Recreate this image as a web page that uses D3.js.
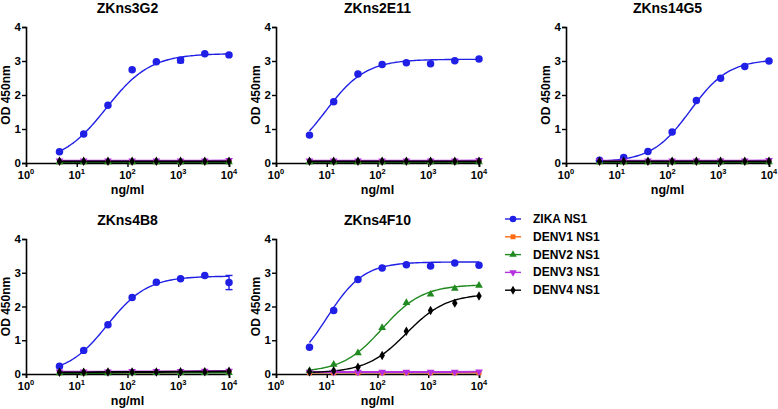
<html>
<head>
<meta charset="utf-8">
<script src="https://cdn.jsdelivr.net/npm/d3@7"></script>
<style>
  body { margin: 0; background: #fff; }
  text { font-family: "Liberation Sans", Arial, sans-serif; font-weight: bold; fill: #000; }
</style>
</head>
<body>
<div id="chart"></div>
<script>
// antigen concentrations (3-fold dilutions, ng/ml)
var conc = [4.57, 13.7, 41.2, 123.5, 370.4, 1111, 3333, 10000];
var seriesNames = ["ZIKA NS1", "DENV1 NS1", "DENV2 NS1", "DENV3 NS1", "DENV4 NS1"];
var seriesColors = ["#1f1fe6", "#ff6a13", "#1f8a1f", "#b531e0", "#000000"];
var seriesSymbols = [d3.symbolCircle, d3.symbolSquare, d3.symbolTriangle, d3.symbolTriangle, d3.symbolDiamond];
var panelTitles = ["ZKns3G2", "ZKns2E11", "ZKns14G5", "ZKns4B8", "ZKns4F10"];
var xTicks = [1, 10, 100, 1000, 10000];
var yTicks = [0, 1, 2, 3, 4];

// OD 450nm, one row per antigen (ZIKA, DENV1..4)
var od3G2 = [
  [0.33, 0.85, 1.70, 2.74, 2.98, 3.02, 3.21, 3.18],
  [0.04, 0.04, 0.04, 0.04, 0.04, 0.04, 0.04, 0.05],
  [0.03, 0.03, 0.03, 0.03, 0.03, 0.03, 0.03, 0.03],
  [0.07, 0.07, 0.07, 0.07, 0.07, 0.07, 0.07, 0.08],
  [0.05, 0.05, 0.05, 0.05, 0.05, 0.05, 0.05, 0.05]
];
var od2E11 = [
  [0.82, 1.80, 2.62, 2.90, 2.95, 2.92, 3.01, 3.06],
  [0.04, 0.04, 0.04, 0.04, 0.04, 0.04, 0.04, 0.05],
  [0.03, 0.03, 0.03, 0.03, 0.03, 0.03, 0.03, 0.03],
  [0.07, 0.07, 0.07, 0.07, 0.07, 0.07, 0.07, 0.08],
  [0.05, 0.05, 0.05, 0.05, 0.05, 0.05, 0.05, 0.05]
];
var od14G5 = [
  [0.08, 0.16, 0.34, 0.91, 1.84, 2.49, 2.84, 3.00],
  [0.04, 0.04, 0.04, 0.04, 0.04, 0.04, 0.04, 0.05],
  [0.03, 0.03, 0.03, 0.03, 0.03, 0.03, 0.03, 0.03],
  [0.07, 0.07, 0.07, 0.07, 0.07, 0.07, 0.07, 0.08],
  [0.05, 0.05, 0.05, 0.05, 0.05, 0.05, 0.05, 0.05]
];
var od4B8 = [
  [0.23, 0.70, 1.46, 2.27, 2.72, 2.82, 2.92, 2.71],
  [0.04, 0.04, 0.05, 0.05, 0.05, 0.05, 0.06, 0.06],
  [0.03, 0.03, 0.03, 0.04, 0.04, 0.04, 0.04, 0.04],
  [0.07, 0.07, 0.07, 0.08, 0.08, 0.08, 0.09, 0.09],
  [0.05, 0.05, 0.06, 0.06, 0.06, 0.07, 0.07, 0.08]
];
var od4F10 = [
  [0.79, 1.88, 2.80, 3.14, 3.24, 3.20, 3.29, 3.22],
  [0.04, 0.04, 0.04, 0.04, 0.04, 0.04, 0.04, 0.04],
  [0.10, 0.28, 0.62, 1.37, 2.11, 2.36, 2.53, 2.62],
  [0.06, 0.06, 0.06, 0.06, 0.06, 0.06, 0.06, 0.07],
  [0.07, 0.10, 0.20, 0.55, 1.27, 1.88, 2.10, 2.31]
];
// error bar half-widths for the ZIKA series (0 = hidden)
var err3G2 = [0, 0, 0, 0, 0, 0.07, 0, 0];
var err4B8 = [0, 0, 0, 0, 0, 0, 0, 0.21];

// fitted 4PL curves: [bottom, top, EC50, hill]; null = flat line
var fit3G2 = [[0, 3.22, 38, 1.0], null, null, null, null];
var fit2E11 = [[0, 3.05, 9.5, 1.1], null, null, null, null];
var fit14G5 = [[0.03, 3.05, 280, 1.15], null, null, null, null];
var fit4B8 = [[0, 2.9, 40, 1.1], null, null, null, null];
var fit4F10 = [[0, 3.32, 10, 1.2], null, [0.05, 2.65, 125, 1.1], null, [0.03, 2.38, 370, 1.1]];

var panels = [
  { title: panelTitles[0], od: od3G2, err: err3G2, fit: fit3G2, x0: 26, x1: 229, y0: 27, y1: 163 },
  { title: panelTitles[1], od: od2E11, err: null, fit: fit2E11, x0: 276, x1: 479, y0: 27, y1: 163 },
  { title: panelTitles[2], od: od14G5, err: null, fit: fit14G5, x0: 566, x1: 769, y0: 27, y1: 163 },
  { title: panelTitles[3], od: od4B8, err: err4B8, fit: fit4B8, x0: 26, x1: 229, y0: 239, y1: 374 },
  { title: panelTitles[4], od: od4F10, err: null, fit: fit4F10, x0: 276, x1: 479, y0: 239, y1: 374 }
];

var svg = d3.select("#chart").append("svg").attr("width", 778).attr("height", 409);

function fourPL(p, c) {
  return p[0] + (p[1] - p[0]) / (1 + Math.pow(p[2] / c, p[3]));
}

panels.forEach(function (p) {
  var x = d3.scaleLog().domain([1, 10000]).range([p.x0, p.x1]);
  var y = d3.scaleLinear().domain([0, 4]).range([p.y1, p.y0]);
  var g = svg.append("g");

  // curves
  p.od.forEach(function (vals, si) {
    var pts;
    if (p.fit[si]) {
      var lx = d3.range(0, 101).map(function (i) {
        return Math.pow(10, Math.log10(conc[0]) + i / 100 * (4 - Math.log10(conc[0])));
      });
      pts = lx.map(function (c) { return [c, fourPL(p.fit[si], c)]; });
    } else {
      pts = conc.map(function (c, i) { return [c, vals[i]]; });
    }
    g.append("path")
      .attr("d", d3.line().x(function (d) { return x(d[0]); }).y(function (d) { return y(d[1]); })(pts))
      .attr("fill", "none")
      .attr("stroke", seriesColors[si])
      .attr("stroke-width", si === 0 || p.fit[si] ? 1.4 : 1.8);
  });

  // axes
  var xAxis = g.append("g").attr("transform", "translate(0," + p.y1 + ")")
    .call(d3.axisBottom(x).tickValues(xTicks).tickSize(4).tickFormat(""));
  xAxis.select(".domain").attr("stroke-width", 1.6);
  xAxis.selectAll(".tick line").attr("stroke-width", 1.4);
  xTicks.forEach(function (t) {
    var tx = g.append("text").attr("x", x(t)).attr("y", p.y1 + 16)
      .attr("text-anchor", "middle").style("font-size", "11px");
    tx.append("tspan").text("10");
    tx.append("tspan").attr("dy", -5).style("font-size", "7.5px").text(String(Math.round(Math.log10(t))));
  });

  var yAxis = g.append("g").attr("transform", "translate(" + p.x0 + ",0)")
    .call(d3.axisLeft(y).tickValues(yTicks).tickSize(4).tickFormat(d3.format("d")));
  yAxis.select(".domain").attr("stroke-width", 1.6);
  yAxis.selectAll(".tick line").attr("stroke-width", 1.4);
  yAxis.selectAll(".tick text").attr("x", -5).style("font-size", "11.5px")
    .style("font-family", "Liberation Sans, Arial, sans-serif").style("font-weight", "bold");

  // error bars
  if (p.err) {
    p.err.forEach(function (e, i) {
      if (!e) return;
      var v = p.od[0][i], cx = x(conc[i]);
      g.append("line").attr("x1", cx).attr("x2", cx).attr("y1", y(v - e)).attr("y2", y(v + e))
        .attr("stroke", seriesColors[0]).attr("stroke-width", 1.4);
      [v - e, v + e].forEach(function (ev) {
        g.append("line").attr("x1", cx - 3.5).attr("x2", cx + 3.5).attr("y1", y(ev)).attr("y2", y(ev))
          .attr("stroke", seriesColors[0]).attr("stroke-width", 1.4);
      });
    });
  }

  // markers
  p.od.forEach(function (vals, si) {
    g.selectAll(null).data(vals).enter().append("path")
      .attr("d", d3.symbol().type(seriesSymbols[si]).size(si === 0 ? 44 : 26))
      .attr("transform", function (d, i) {
        return "translate(" + x(conc[i]) + "," + y(d) + ")" + (si === 3 ? " rotate(180)" : "");
      })
      .attr("fill", seriesColors[si]);
  });

  // labels
  g.append("text").attr("x", (p.x0 + p.x1) / 2).attr("y", p.y0 - 14)
    .attr("text-anchor", "middle").style("font-size", "14px").text(p.title);
  g.append("text").attr("x", (p.x0 + p.x1) / 2).attr("y", p.y1 + 31)
    .attr("text-anchor", "middle").style("font-size", "12.5px").text("ng/ml");
  g.append("text")
    .attr("transform", "translate(" + (p.x0 - 16) + "," + ((p.y0 + p.y1) / 2) + ") rotate(-90)")
    .attr("text-anchor", "middle").style("font-size", "12px").text("OD 450nm");
});

// legend
var legend = svg.append("g");
seriesNames.forEach(function (name, i) {
  var ly = 219 + i * 17.8;
  legend.append("line").attr("x1", 505).attr("x2", 521).attr("y1", ly).attr("y2", ly)
    .attr("stroke", seriesColors[i]).attr("stroke-width", 1.4);
  legend.append("path")
    .attr("d", d3.symbol().type(seriesSymbols[i]).size(i === 0 ? 34 : 24))
    .attr("transform", "translate(513," + ly + ")" + (i === 3 ? " rotate(180)" : ""))
    .attr("fill", seriesColors[i]);
  legend.append("text").attr("x", 533).attr("y", ly + 4).style("font-size", "12px").text(name);
});
</script>
</body>
</html>
